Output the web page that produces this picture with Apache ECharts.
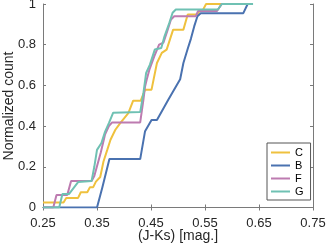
<!DOCTYPE html>
<html>
<head>
<meta charset="utf-8">
<script src="https://cdn.jsdelivr.net/npm/echarts@6/dist/echarts.min.js"></script>
<style>html,body{margin:0;padding:0;background:#fff}#c{width:327px;height:244px}</style>
</head>
<body>
<div id="c"></div>
<script>
// Tick labels
const xTicks = [0.25, 0.35, 0.45, 0.55, 0.65, 0.75];
const yTicks = [0, 0.2, 0.4, 0.6, 0.8, 1];
const seriesNames = ['C', 'B', 'F', 'G'];
const xTitle = '(J-Ks) [mag.]';
const yTitle = 'Normalized count';
// Curve points [x, y]
const C = [[0.25,0.025],[0.288,0.025],[0.293,0.047],[0.315,0.047],[0.320,0.075],[0.332,0.075],[0.337,0.10],[0.343,0.10],[0.348,0.127],[0.356,0.15],[0.362,0.226],[0.369,0.283],[0.375,0.333],[0.384,0.382],[0.393,0.415],[0.408,0.464],[0.417,0.525],[0.431,0.525],[0.439,0.579],[0.451,0.579],[0.461,0.71],[0.470,0.76],[0.479,0.776],[0.485,0.825],[0.491,0.874],[0.510,0.874],[0.518,0.948],[0.535,0.948],[0.540,0.965],[0.545,0.965],[0.552,1],[0.58,1]];
const B = [[0.25,0],[0.350,0],[0.360,0.10],[0.373,0.238],[0.430,0.238],[0.439,0.375],[0.451,0.43],[0.461,0.43],[0.482,0.53],[0.504,0.63],[0.510,0.71],[0.518,0.78],[0.524,0.83],[0.530,0.89],[0.536,0.94],[0.542,0.955],[0.621,0.955],[0.629,1]];
const F = [[0.25,0],[0.269,0],[0.275,0.062],[0.295,0.062],[0.302,0.13],[0.340,0.13],[0.345,0.155],[0.357,0.27],[0.365,0.36],[0.372,0.40],[0.378,0.418],[0.430,0.418],[0.436,0.53],[0.439,0.595],[0.442,0.628],[0.447,0.677],[0.456,0.743],[0.465,0.80],[0.473,0.81],[0.481,0.874],[0.487,0.924],[0.493,0.94],[0.533,0.94],[0.537,0.965],[0.572,0.965],[0.581,1],[0.60,1]];
const G = [[0.25,0],[0.280,0],[0.286,0.066],[0.298,0.066],[0.315,0.125],[0.340,0.13],[0.345,0.20],[0.350,0.283],[0.358,0.316],[0.365,0.373],[0.372,0.415],[0.380,0.466],[0.430,0.469],[0.436,0.563],[0.441,0.661],[0.448,0.702],[0.457,0.776],[0.460,0.784],[0.469,0.784],[0.475,0.841],[0.484,0.907],[0.490,0.957],[0.496,0.973],[0.574,0.973],[0.581,1],[0.639,1]];
const seriesData = [C, B, F, G];
const colors = ['#efc13e', '#4a72b0', '#bd7bb0', '#6fc1b3'];

const font = 'Liberation Sans, Arial, Helvetica, sans-serif';
const axisGray = '#7a7a7a';
const textCol = '#262626';

const chart = echarts.init(document.getElementById('c'), null, {renderer: 'canvas'});
const baseX = {
  type: 'value', min: 0.25, max: 0.75, interval: 0.05,
  axisLine: {show: true, lineStyle: {color: axisGray, width: 1}},
  splitLine: {show: false}
};
const baseY = {
  type: 'value', min: 0, max: 1, interval: 0.2,
  axisLine: {show: true, lineStyle: {color: axisGray, width: 1}},
  splitLine: {show: false}
};
chart.setOption({
  animation: false,
  color: colors,
  grid: {left: 43, right: 14, top: 4, bottom: 36.5, containLabel: false, outerBoundsMode: 'none'},
  graphic: [{
    type: 'text', x: 9, y: 106, rotation: Math.PI / 2, silent: true,
    style: {text: yTitle, fontFamily: font, fontSize: 14, fill: textCol, align: 'center', verticalAlign: 'middle'}
  }, {
    type: 'text', x: 178, y: 236.5, silent: true,
    style: {text: xTitle, fontFamily: font, fontSize: 14, fill: textCol, align: 'center', verticalAlign: 'middle'}
  }],
  xAxis: [
    Object.assign({}, baseX, {
      position: 'bottom',
      axisTick: {show: true, inside: true, length: 3, customValues: xTicks, lineStyle: {color: axisGray}},
      axisLabel: {show: true, customValues: xTicks, margin: 9, fontFamily: font, fontSize: 13, color: textCol,
        formatter: v => v.toFixed(2)}
    }),
    Object.assign({}, baseX, {
      position: 'top',
      axisTick: {show: true, inside: true, length: 3, customValues: xTicks, lineStyle: {color: axisGray}},
      axisLabel: {show: false}
    })
  ],
  yAxis: [
    Object.assign({}, baseY, {
      position: 'left',
      axisTick: {show: true, inside: true, length: 3, customValues: yTicks, lineStyle: {color: axisGray}},
      axisLabel: {show: true, customValues: yTicks, margin: 7, fontFamily: font, fontSize: 13, color: textCol,
        formatter: v => String(Math.round(v * 10) / 10)}
    }),
    Object.assign({}, baseY, {
      position: 'right',
      axisTick: {show: true, inside: true, length: 3, customValues: yTicks, lineStyle: {color: axisGray}},
      axisLabel: {show: false}
    })
  ],
  legend: {
    orient: 'vertical', left: 267, top: 143,
    data: seriesNames,
    icon: 'rect', itemWidth: 19, itemHeight: 2, itemGap: 2,
    padding: [4, 7, 3, 4],
    borderColor: '#555', borderWidth: 1, backgroundColor: '#fff',
    textStyle: {fontFamily: font, fontSize: 11, color: '#000'}
  },
  series: seriesNames.map((n, i) => ({
    name: n, type: 'line', data: seriesData[i], showSymbol: false, symbol: 'none',
    lineStyle: {width: 2, color: colors[i]}, itemStyle: {color: colors[i]}, clip: true
  }))
});
</script>
</body>
</html>
